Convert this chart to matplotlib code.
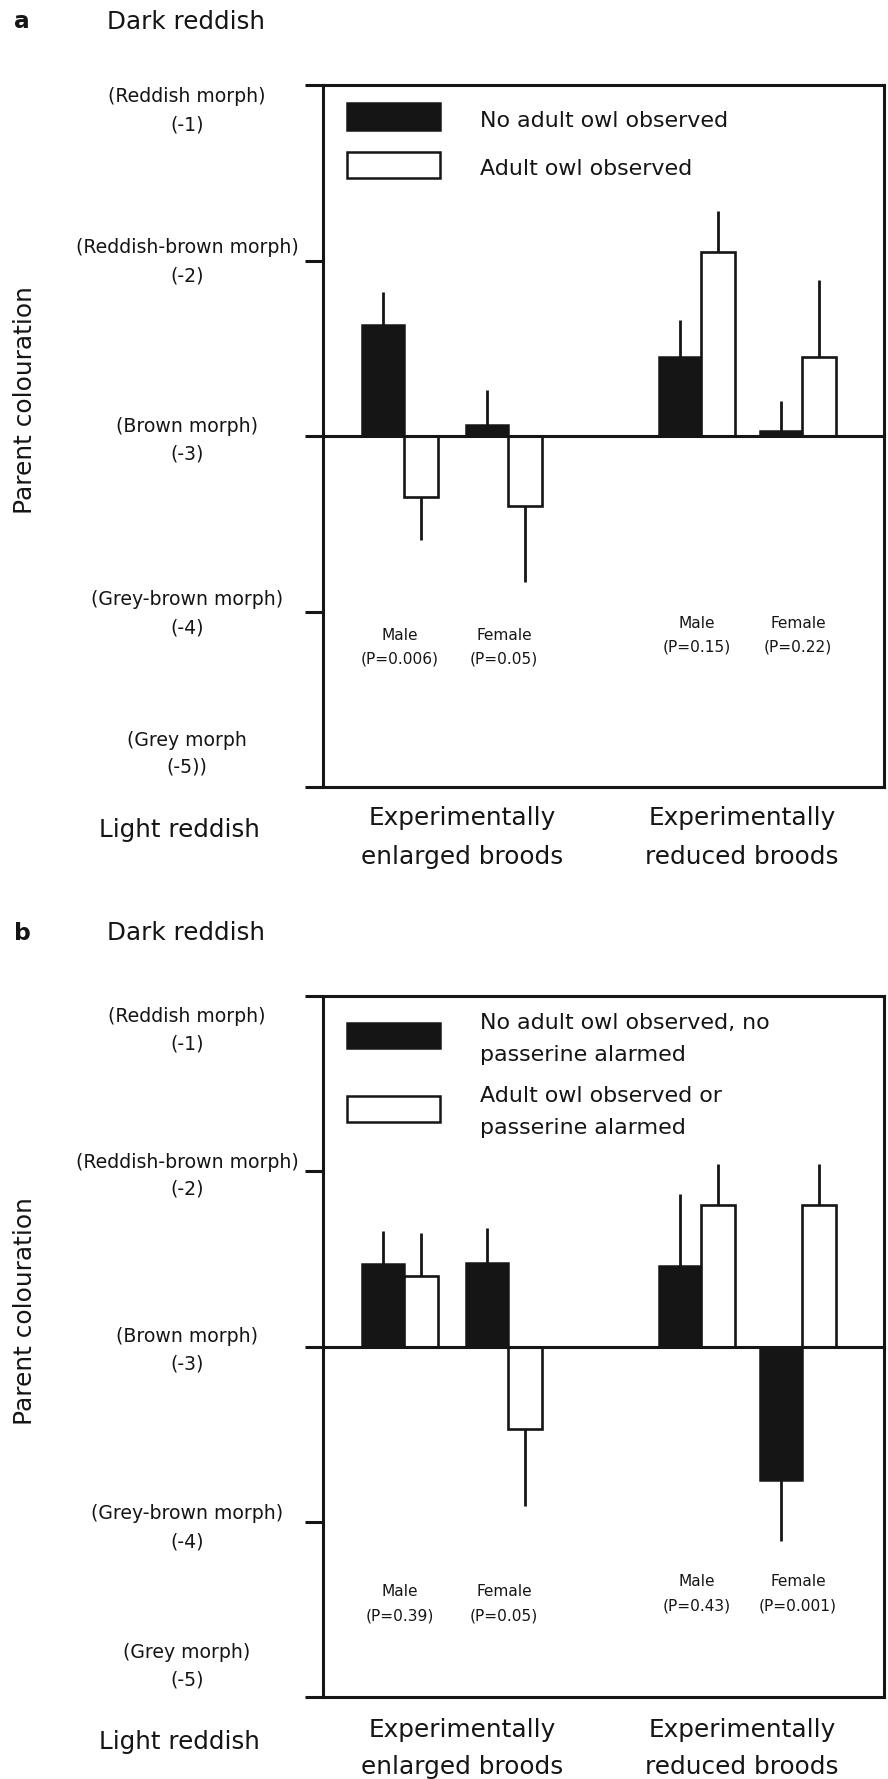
import matplotlib
matplotlib.use('Agg')
import matplotlib.pyplot as plt
import numpy as np
from matplotlib.patches import Rectangle
from matplotlib.transforms import blended_transform_factory

FONT = ['DejaVu Sans']
plt.rcParams['font.family'] = FONT

# ---------------- data ----------------
sexes = ['Male', 'Female', 'Male', 'Female']
treatments = ['Experimentally\nenlarged broods', 'Experimentally\nreduced broods']
morph_values = [-1, -2, -3, -4, -5]
morph_names_a = ['(Reddish morph)', '(Reddish-brown morph)', '(Brown morph)',
                 '(Grey-brown morph)', '(Grey morph']
morph_codes_a = ['(-1)', '(-2)', '(-3)', '(-4)', '(-5))']
morph_names_b = ['(Reddish morph)', '(Reddish-brown morph)', '(Brown morph)',
                 '(Grey-brown morph)', '(Grey morph)']
morph_codes_b = ['(-1)', '(-2)', '(-3)', '(-4)', '(-5)']

a_no_owl = [-2.37, -2.94, -2.55, -2.97]
a_no_owl_se = [0.19, 0.20, 0.21, 0.17]
a_owl = [-3.35, -3.40, -1.95, -2.55]
a_owl_se = [0.24, 0.43, 0.23, 0.44]
a_p = ['0.006', '0.05', '0.15', '0.22']
a_legend = ['No adult owl observed', 'Adult owl observed']

b_no_alarm = [-2.53, -2.525, -2.54, -3.76]
b_no_alarm_se = [0.19, 0.20, 0.41, 0.35]
b_alarm = [-2.595, -3.47, -2.19, -2.19]
b_alarm_se = [0.24, 0.44, 0.23, 0.23]
b_p = ['0.39', '0.05', '0.43', '0.001']
b_legend = ['No adult owl observed, no\npasserine alarmed',
            'Adult owl observed or\npasserine alarmed']

BASE = -3.0
W, H = 888, 1779
INK = '#151515'
fig = plt.figure(figsize=(W / 100, H / 100), dpi=100)
fig.canvas.draw()
REN = fig.canvas.get_renderer()


def fit(s, target, **kw):
    t = fig.text(0, 0, s, fontsize=10, **kw)
    w = t.get_window_extent(REN).width
    t.remove()
    return 10 * target / w


TICK_FS = fit('(Reddish-brown morph)', 223)
SEX_FS = fit('(P=0.006)', 78)
GRP_FS = fit('enlarged broods', 202)
HEAD_FS = fit('Dark reddish', 158)
LEG_FS = fit('No adult owl observed', 248)
YLAB_FS = fit('Parent colouration', 228)
LET_FS = fit('a', 16, fontweight='bold')


def fx(p):
    return p / W


def fy(p):
    return 1 - p / H


panels = [
    dict(top=85, bottom=787, letter='a', dark_y=22, light_y=830, ylab_y=400,
         black=a_no_owl, black_se=a_no_owl_se, white=a_owl, white_se=a_owl_se,
         p=a_p, legend=a_legend, names=morph_names_a, codes=morph_codes_a,
         sex_y=[(-4.136, -4.27), (-4.07, -4.20)],
         leg_black=(103, 130), leg_white=(152, 178),
         leg_text=[(121,), (169,)], grp_y=(818, 857),
         lab_off=[(12, 40), (-13, 15), (-9, 18), (-12, 16), (-47, -20)]),
    dict(top=996, bottom=1697, letter='b', dark_y=933, light_y=1742, ylab_y=1311,
         black=b_no_alarm, black_se=b_no_alarm_se, white=b_alarm, white_se=b_alarm_se,
         p=b_p, legend=b_legend, names=morph_names_b, codes=morph_codes_b,
         sex_y=[(-4.40, -4.54), (-4.34, -4.48)],
         leg_black=(1023, 1048), leg_white=(1096, 1122),
         leg_text=[(1023, 1055), (1096, 1128)], grp_y=(1730, 1767),
         lab_off=[(20, 48), (-9, 18), (-10, 18), (-8, 20), (-44, -17)]),
]

AX_L, AX_R = 323, 884
pair_x = np.array([0.81, 1.85, 3.78, 4.79])
BW_BLACK, BW_WHITE = 0.42, 0.34
LW = 2.2

for P in panels:
    ax = fig.add_axes([fx(AX_L), fy(P['bottom']), fx(AX_R - AX_L),
                       (P['bottom'] - P['top']) / H])
    ax.set_xlim(0, (AX_R - AX_L) / 100)
    ax.set_ylim(-5, -1)
    unit = (P['bottom'] - P['top']) / 4.0

    black = np.array(P['black'])
    white = np.array(P['white'])
    bse = np.array(P['black_se'])
    wse = np.array(P['white_se'])

    ax.bar(pair_x, black - BASE, bottom=BASE, width=-BW_BLACK, align='edge',
           color=INK, edgecolor=INK, linewidth=1.8, zorder=3)
    ax.bar(pair_x, white - BASE, bottom=BASE, width=BW_WHITE, align='edge',
           color='white', edgecolor=INK, linewidth=1.9, zorder=3)

    for xs, v, se in [(pair_x - BW_BLACK / 2, black, bse),
                      (pair_x + BW_WHITE / 2, white, wse)]:
        up = np.where(v >= BASE, se, 0)
        lo = np.where(v < BASE, se, 0)
        ax.errorbar(xs, v, yerr=[lo, up], fmt='none', ecolor=INK,
                    elinewidth=2.0, capsize=0, zorder=2)

    ax.axhline(BASE, color=INK, lw=LW, zorder=4)
    for s in ax.spines.values():
        s.set_linewidth(LW)
        s.set_color(INK)
    ax.set_yticks(morph_values)
    ax.set_yticklabels([])
    ax.tick_params(axis='y', direction='out', length=13, width=LW, color=INK)
    ax.set_xticks([])

    # morph labels
    tr = blended_transform_factory(fig.transFigure, ax.transData)
    for mv, nm, cd, (o1, o2) in zip(morph_values, P['names'], P['codes'], P['lab_off']):
        ax.text(fx(187), mv - o1 / unit, nm, transform=tr, ha='center', va='center',
                fontsize=TICK_FS, color=INK)
        ax.text(fx(187), mv - o2 / unit, cd, transform=tr, ha='center', va='center',
                fontsize=TICK_FS, color=INK)

    # sex & P labels
    for i, (sx, pv) in enumerate(zip(sexes, P['p'])):
        yy = P['sex_y'][i // 2]
        ax.text(pair_x[i] - 0.04, yy[0], sx, ha='center', va='center',
                fontsize=SEX_FS, color=INK)
        ax.text(pair_x[i] - 0.04, yy[1], '(P=%s)' % pv, ha='center', va='center',
                fontsize=SEX_FS, color=INK)

    # legend
    axh = P['bottom'] - P['top']

    def ay(p):
        return (P['bottom'] - p) / axh

    def axx(p):
        return (p - AX_L) / (AX_R - AX_L)

    for (y0, y1), col in [(P['leg_black'], INK), (P['leg_white'], 'white')]:
        ax.add_patch(Rectangle((axx(347), ay(y1)), axx(440) - axx(347), ay(y0) - ay(y1),
                               transform=ax.transAxes, facecolor=col,
                               edgecolor=INK, lw=1.8, zorder=5))
    for lab, ys in zip(P['legend'], P['leg_text']):
        for ln, yv in zip(lab.split('\n'), ys):
            ax.text(axx(480), ay(yv), ln, transform=ax.transAxes, ha='left',
                    va='center', fontsize=LEG_FS, color=INK)

    # group labels
    trg = blended_transform_factory(ax.transData, fig.transFigure)
    for gx, lab in zip([1.39, 4.19], treatments):
        l1, l2 = lab.split('\n')
        ax.text(gx, fy(P['grp_y'][0]), l1, transform=trg, ha='center', va='center',
                fontsize=GRP_FS, color=INK)
        ax.text(gx, fy(P['grp_y'][1]), l2, transform=trg, ha='center', va='center',
                fontsize=GRP_FS, color=INK)

    fig.text(fx(22), fy(P['dark_y']), P['letter'], ha='center', va='center',
             fontsize=LET_FS, fontweight='bold', color=INK)
    fig.text(fx(186), fy(P['dark_y']), 'Dark reddish', ha='center', va='center',
             fontsize=HEAD_FS, color=INK)
    fig.text(fx(179), fy(P['light_y']), 'Light reddish', ha='center', va='center',
             fontsize=HEAD_FS, color=INK)
    fig.text(fx(25), fy(P['ylab_y']), 'Parent colouration', rotation=90,
             ha='center', va='center', fontsize=YLAB_FS, color=INK)

fig.savefig('out.png', dpi=100, facecolor='white')
